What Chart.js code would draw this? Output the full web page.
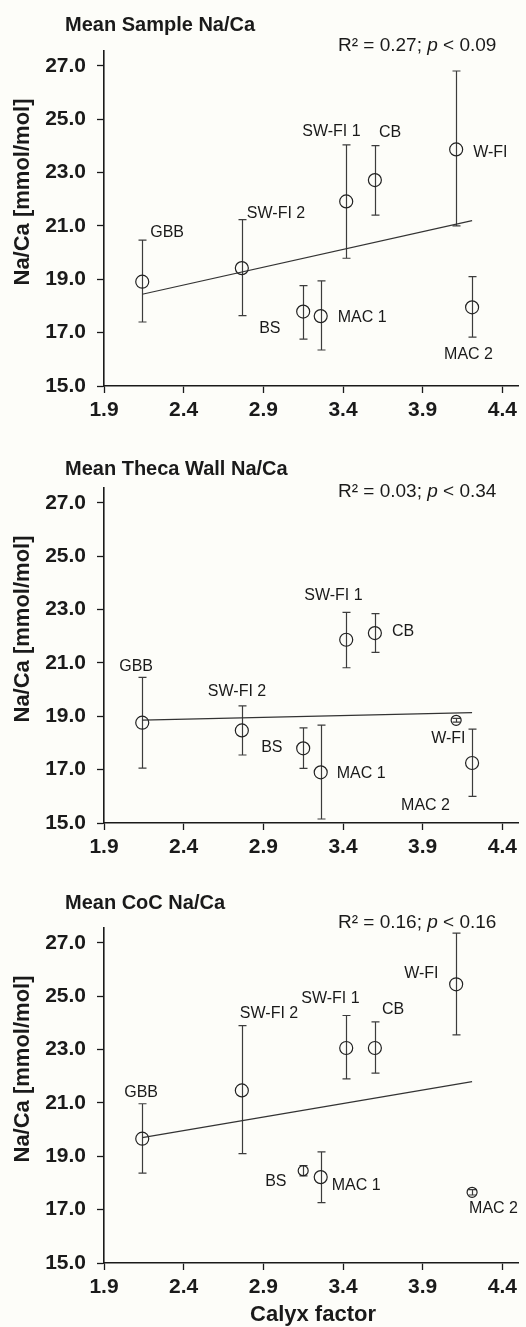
<!DOCTYPE html>
<html>
<head>
<meta charset="utf-8">
<script src="https://cdn.jsdelivr.net/npm/chart.js@4.4.0/dist/chart.umd.min.js"></script>
<style>
  body { margin: 0; background: #fdfdf9; width: 526px; height: 1327px; overflow: hidden; position: relative; }
  canvas { position: absolute; left: 0; }
</style>
</head>
<body>
<canvas id="sample" width="526" height="437" style="top:0"></canvas>
<canvas id="theca" width="526" height="440" style="top:437px"></canvas>
<canvas id="coc" width="526" height="450" style="top:877px"></canvas>

<script>
// sites, in calyx-factor order
const sites = ['GBB', 'SW-FI 2', 'BS', 'MAC 1', 'SW-FI 1', 'CB', 'W-FI', 'MAC 2'];
const calyxFactor = [2.14, 2.765, 3.15, 3.26, 3.42, 3.60, 4.11, 4.21];

const xTicks = [1.9, 2.4, 2.9, 3.4, 3.9, 4.4];
const yTicks = [15, 17, 19, 21, 23, 25, 27];

// Mean sample Na/Ca (mmol/mol) with error bar ends
const sampleMean = [18.91, 19.42, 17.79, 17.62, 21.92, 22.72, 23.87, 17.95];
const sampleHigh = [20.47, 21.24, 18.76, 18.94, 24.04, 24.01, 26.81, 19.10];
const sampleLow  = [17.40, 17.64, 16.76, 16.35, 19.79, 21.41, 21.00, 16.83];

// Mean theca wall Na/Ca
const thecaMean = [18.76, 18.47, 17.80, 16.90, 21.87, 22.12, 18.85, 17.25];
const thecaHigh = [20.46, 19.39, 18.57, 18.67, 22.90, 22.85, 18.92, 18.52];
const thecaLow  = [17.06, 17.55, 17.05, 15.15, 20.82, 21.40, 18.78, 16.00];

// Mean CoC Na/Ca
const cocMean = [19.66, 21.47, 18.46, 18.22, 23.06, 23.06, 25.45, 17.65];
const cocHigh = [20.97, 23.90, 18.65, 19.17, 24.28, 24.04, 27.37, 17.75];
const cocLow  = [18.37, 19.10, 18.27, 17.26, 21.90, 22.12, 23.55, 17.55];

// regression lines (end points)
const fitX = [2.14, 4.21];
const sampleFit = [18.44, 21.20];
const thecaFit = [18.86, 19.14];
const cocFit = [19.70, 21.80];

const sampleStats = ['0.27', '0.09'];
const thecaStats = ['0.03', '0.34'];
const cocStats = ['0.16', '0.16'];

const FONT = '"Liberation Sans", Arial, sans-serif';

// one plugin per panel: error bars, point names, titles
function makeAnnotate(p) {
  return {
    id: 'annotate',
    beforeDatasetsDraw(chart) {
      const { ctx, scales: { x, y } } = chart;
      ctx.save();
      ctx.strokeStyle = '#3c3c3c';
      ctx.lineWidth = 1.2;
      calyxFactor.forEach((cx, i) => {
        const px = Math.round(x.getPixelForValue(cx)) + 0.5;
        const top = y.getPixelForValue(p.high[i]);
        const bot = y.getPixelForValue(p.low[i]);
        ctx.beginPath();
        ctx.moveTo(px, top); ctx.lineTo(px, bot);
        ctx.moveTo(px - 4, top); ctx.lineTo(px + 4, top);
        ctx.moveTo(px - 4, bot); ctx.lineTo(px + 4, bot);
        ctx.stroke();
      });
      ctx.restore();
    },
    afterDraw(chart) {
      const { ctx, scales: { x, y } } = chart;
      ctx.save();
      ctx.fillStyle = '#1a1a1a';
      ctx.textBaseline = 'middle';

      // point names
      ctx.font = '16px ' + FONT;
      ctx.textAlign = 'left';
      sites.forEach((s, i) => {
        const px = x.getPixelForValue(calyxFactor[i]);
        const py = y.getPixelForValue(p.mean[i]);
        ctx.fillText(s, px + p.labelOff[i][0], py + p.labelOff[i][1]);
      });

      // panel title
      ctx.font = 'bold 20px ' + FONT;
      ctx.fillText(p.title, 65, p.titleY);

      // R² / p annotation, p in italics
      let tx = 338;
      const parts = [
        ['R\u00b2 = ' + p.stats[0] + '; ', ''],
        ['p', 'italic '],
        [' < ' + p.stats[1], '']
      ];
      parts.forEach(([t, st]) => {
        ctx.font = st + '19px ' + FONT;
        ctx.fillText(t, tx, p.statY);
        tx += ctx.measureText(t).width;
      });

      // y axis title
      ctx.save();
      ctx.translate(23, 192);
      ctx.rotate(-Math.PI / 2);
      ctx.textAlign = 'center';
      ctx.font = 'bold 22px ' + FONT;
      ctx.fillText('Na/Ca [mmol/mol]', 0, 0);
      ctx.restore();

      if (p.xTitle) {
        ctx.textAlign = 'center';
        ctx.font = 'bold 22px ' + FONT;
        ctx.fillText(p.xTitle, 313, 438);
      }
      ctx.restore();
    }
  };
}

function makeChart(id, p) {
  const canvas = document.getElementById(id);
  const H = canvas.height;
  const axisCol = '#1a1a1a';
  return new Chart(canvas, {
    type: 'scatter',
    data: {
      datasets: [
        {
          data: fitX.map((v, i) => ({ x: v, y: p.fit[i] })),
          showLine: true,
          borderColor: '#333',
          borderWidth: 1.2,
          pointRadius: 0
        },
        {
          data: calyxFactor.map((v, i) => ({ x: v, y: p.mean[i] })),
          pointStyle: 'circle',
          pointRadius: c => p.small.includes(sites[c.dataIndex]) ? 5 : 6.5,
          pointBorderColor: '#222',
          pointBorderWidth: 1.2,
          pointBackgroundColor: 'rgba(0,0,0,0)'
        }
      ]
    },
    options: {
      responsive: false,
      animation: false,
      layout: { padding: { top: 51, right: 6, bottom: 0, left: 0 } },
      plugins: { legend: { display: false }, tooltip: { enabled: false } },
      scales: {
        x: {
          type: 'linear',
          min: 1.9,
          max: 4.5,
          afterBuildTicks: s => { s.ticks = xTicks.map(v => ({ value: v })); },
          afterFit: s => { s.height = H - 386; },
          ticks: {
            callback: v => v.toFixed(1),
            color: '#1a1a1a',
            font: { family: FONT, size: 21, weight: 'bold' },
            padding: 5,
            maxRotation: 0
          },
          grid: { drawOnChartArea: false, color: axisCol, tickLength: 7, tickWidth: 1.3 },
          border: { color: axisCol, width: 1.6 }
        },
        y: {
          min: 15,
          max: 27.56,
          afterBuildTicks: s => { s.ticks = yTicks.map(v => ({ value: v })); },
          afterFit: s => { s.width = 104; },
          ticks: {
            callback: v => v.toFixed(1),
            color: '#1a1a1a',
            font: { family: FONT, size: 21, weight: 'bold' },
            padding: 11
          },
          grid: { drawOnChartArea: false, color: axisCol, tickLength: 7, tickWidth: 1.3 },
          border: { color: axisCol, width: 1.6 }
        }
      }
    },
    plugins: [makeAnnotate(p)]
  });
}

makeChart('sample', {
  title: 'Mean Sample Na/Ca', titleY: 25, statY: 46,
  mean: sampleMean, high: sampleHigh, low: sampleLow, fit: sampleFit, stats: sampleStats,
  small: [],
  labelOff: [[8, -49], [5, -55], [-44, 17], [17, 1], [-44, -70], [4, -47], [17, 3], [-28, 47]]
});

makeChart('theca', {
  title: 'Mean Theca Wall Na/Ca', titleY: 32, statY: 55,
  mean: thecaMean, high: thecaHigh, low: thecaLow, fit: thecaFit, stats: thecaStats,
  small: ['W-FI'],
  labelOff: [[-23, -56], [-34, -39], [-42, -1], [16, 1], [-42, -44], [17, -2], [-25, 18], [-71, 43]]
});

makeChart('coc', {
  title: 'Mean CoC Na/Ca', titleY: 26, statY: 46,
  mean: cocMean, high: cocHigh, low: cocLow, fit: cocFit, stats: cocStats,
  small: ['BS', 'MAC 2'],
  xTitle: 'Calyx factor',
  labelOff: [[-18, -46], [-2, -77], [-38, 11], [11, 8], [-45, -49], [7, -38], [-52, -11], [-3, 16]]
});
</script>
</body>
</html>
